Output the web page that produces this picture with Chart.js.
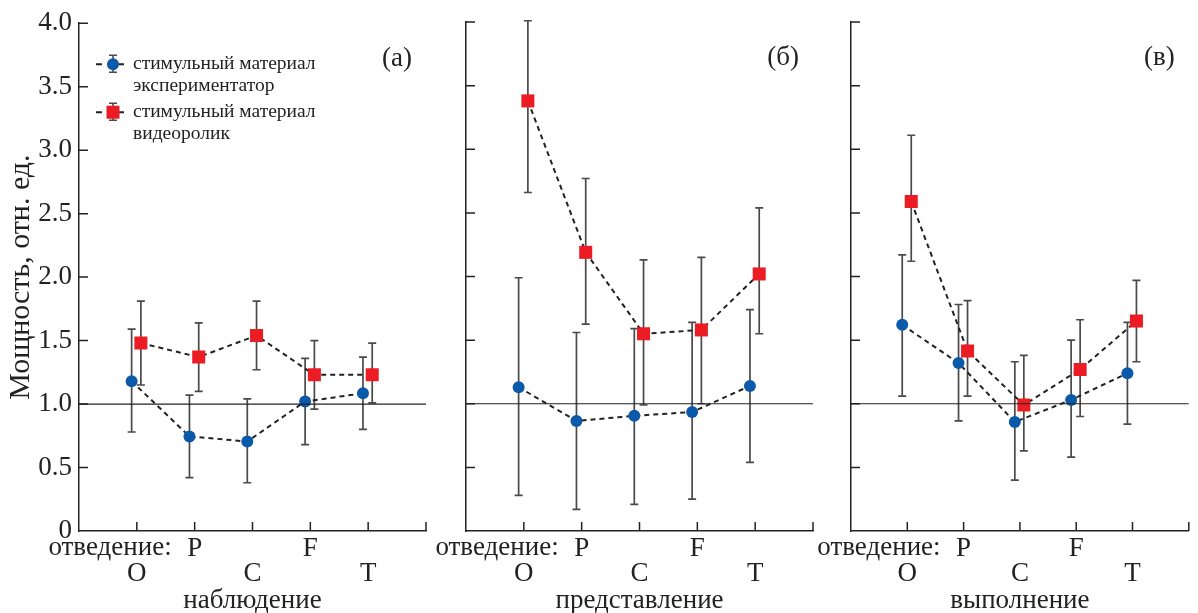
<!DOCTYPE html>
<html>
<head>
<meta charset="utf-8">
<script src="https://cdn.jsdelivr.net/npm/chart.js@4.4.1/dist/chart.umd.min.js"></script>
<style>
  html, body { margin: 0; padding: 0; background: #fff; }
  #wrap { position: relative; width: 1198px; height: 613px; overflow: hidden; }
  #wrap canvas { position: absolute; top: 0; }
</style>
</head>
<body>
<div id="wrap">
  <canvas id="c0" width="440" height="613" style="left:0px"></canvas>
  <canvas id="c1" width="430" height="613" style="left:400px"></canvas>
  <canvas id="c2" width="408" height="613" style="left:790px"></canvas>
</div>
<script>
const leads = ["O", "P", "C", "F", "T"];
const conditions = ["наблюдение", "представление", "выполнение"];
const panelLabels = ["(а)", "(б)", "(в)"];
const seriesNames = [
  ["стимульный материал", "экспериментатор"],
  ["стимульный материал", "видеоролик"]
];
const baseline = 1.0;

// наблюдение
const expObs = [1.18, 0.745, 0.705, 1.02, 1.085];
const expObsLo = [0.78, 0.42, 0.38, 0.68, 0.80];
const expObsHi = [1.59, 1.07, 1.04, 1.36, 1.37];
const vidObs = [1.48, 1.37, 1.54, 1.23, 1.23];
const vidObsLo = [1.15, 1.10, 1.27, 0.96, 1.01];
const vidObsHi = [1.81, 1.64, 1.81, 1.50, 1.48];

// представление
const expImg = [1.13, 0.865, 0.905, 0.935, 1.14];
const expImgLo = [0.28, 0.17, 0.21, 0.25, 0.54];
const expImgHi = [1.99, 1.56, 1.59, 1.64, 1.74];
const vidImg = [3.38, 2.19, 1.55, 1.58, 2.02];
const vidImgLo = [2.66, 1.625, 0.99, 1.0, 1.55];
const vidImgHi = [4.01, 2.77, 2.13, 2.15, 2.54];

// выполнение
const expExe = [1.62, 1.32, 0.857, 1.03, 1.24];
const expExeLo = [1.06, 0.865, 0.40, 0.58, 0.84];
const expExeHi = [2.17, 1.78, 1.33, 1.50, 1.64];
const vidExe = [2.59, 1.415, 0.99, 1.27, 1.65];
const vidExeLo = [2.12, 1.06, 0.63, 0.90, 1.33];
const vidExeHi = [3.11, 1.81, 1.38, 1.66, 1.97];

const BLUE = "#0b5aa9";
const RED = "#ec1c24";
const INK = "#222";
const BAR = "#4a4a4a";
const FONT = "'Liberation Serif', 'Times New Roman', serif";

const panels = [
  { exp: [expObs, expObsLo, expObsHi], vid: [vidObs, vidObsLo, vidObsHi], yAxisW: 79, padRight: 14, legend: true },
  { exp: [expImg, expImgLo, expImgHi], vid: [vidImg, vidImgLo, vidImgHi], yAxisW: 66, padRight: 17, legend: false },
  { exp: [expExe, expExeLo, expExeHi], vid: [vidExe, vidExeLo, vidExeHi], yAxisW: 61, padRight: 1, legend: false }
];

const toPts = (vals, shift) => vals.map((v, i) => ({ x: i + 1 + shift, y: v }));

// error bars, inward ticks and the texts on the plot
const decoPlugin = {
  id: "deco",
  beforeDatasetsDraw(chart) {
    const { ctx, scales: { x, y } } = chart;
    ctx.save();
    ctx.strokeStyle = BAR;
    ctx.lineWidth = 1.7;
    chart.data.datasets.forEach((ds) => {
      if (!ds.errLo) return;
      ds.data.forEach((p, i) => {
        const px = x.getPixelForValue(p.x);
        const lo = y.getPixelForValue(ds.errLo[i]);
        const hi = y.getPixelForValue(ds.errHi[i]);
        ctx.beginPath();
        ctx.moveTo(px, lo); ctx.lineTo(px, hi);
        ctx.moveTo(px - 4, lo); ctx.lineTo(px + 4, lo);
        ctx.moveTo(px - 4, hi); ctx.lineTo(px + 4, hi);
        ctx.stroke();
      });
    });
    ctx.restore();
  },
  afterDraw(chart) {
    const { ctx, chartArea, scales: { x, y } } = chart;
    const opts = chart.options.plugins.deco;
    ctx.save();
    ctx.strokeStyle = INK;
    ctx.lineWidth = 1.5;
    ctx.beginPath();
    for (let v = 0.5; v <= 4.0001; v += 0.5) {
      const py = y.getPixelForValue(v);
      ctx.moveTo(chartArea.left, py); ctx.lineTo(chartArea.left + 9, py);
    }
    for (let v = 1; v <= 6; v++) {
      const px = x.getPixelForValue(v);
      ctx.moveTo(px, chartArea.bottom); ctx.lineTo(px, chartArea.bottom - 9);
    }
    ctx.stroke();

    ctx.fillStyle = INK;
    ctx.textBaseline = "middle";
    ctx.font = "27px " + FONT;
    ctx.textAlign = "right";
    ctx.fillText(opts.label, chartArea.right - 14, chartArea.top + 36);
    ctx.fillText("отведение:", x.getPixelForValue(2) - 23, chartArea.bottom + 17);

    if (opts.legend) {
      const items = [
        { color: BLUE, style: "circle", y: chartArea.top + 41, lines: seriesNames[0] },
        { color: RED, style: "rect", y: chartArea.top + 89, lines: seriesNames[1] }
      ];
      items.forEach((it) => {
        const mx = chartArea.left + 34;
        ctx.strokeStyle = INK;
        ctx.lineWidth = 2;
        ctx.setLineDash([6, 5]);
        ctx.beginPath();
        ctx.moveTo(mx - 17, it.y); ctx.lineTo(mx + 16, it.y);
        ctx.stroke();
        ctx.setLineDash([]);
        ctx.strokeStyle = BAR;
        ctx.lineWidth = 1.6;
        ctx.beginPath();
        ctx.moveTo(mx, it.y - 9); ctx.lineTo(mx, it.y + 8);
        ctx.moveTo(mx - 4, it.y - 9); ctx.lineTo(mx + 4, it.y - 9);
        ctx.moveTo(mx - 4, it.y + 8); ctx.lineTo(mx + 4, it.y + 8);
        ctx.stroke();
        ctx.fillStyle = it.color;
        ctx.beginPath();
        if (it.style === "circle") ctx.arc(mx, it.y, 6, 0, Math.PI * 2);
        else ctx.rect(mx - 6.5, it.y - 6.5, 13, 13);
        ctx.fill();
        ctx.fillStyle = INK;
        ctx.font = "19.5px " + FONT;
        ctx.textAlign = "left";
        ctx.fillText(it.lines[0], chartArea.left + 54, it.y);
        ctx.fillText(it.lines[1], chartArea.left + 54, it.y + 22);
      });
    }
    ctx.restore();
  }
};

panels.forEach((p, k) => {
  const datasets = [
    {
      data: [{ x: 0, y: baseline }, { x: 6, y: baseline }],
      borderColor: INK, borderWidth: 1.2, pointRadius: 0
    },
    {
      data: toPts(p.exp[0], -0.09), errLo: p.exp[1], errHi: p.exp[2],
      borderColor: INK, borderWidth: 2, borderDash: [5, 4],
      pointStyle: "circle", pointRadius: 6, pointBorderWidth: 0,
      pointBackgroundColor: BLUE
    },
    {
      data: toPts(p.vid[0], 0.07), errLo: p.vid[1], errHi: p.vid[2],
      borderColor: INK, borderWidth: 2, borderDash: [5, 4],
      pointStyle: "rect", pointRadius: 9.2, pointBorderWidth: 0,
      pointBackgroundColor: RED
    }
  ];

  new Chart(document.getElementById("c" + k), {
    type: "line",
    data: { datasets },
    plugins: [decoPlugin],
    options: {
      responsive: false,
      animation: false,
      events: [],
      layout: { padding: { top: 22, right: p.padRight, left: 0, bottom: 0 } },
      plugins: {
        legend: { display: false },
        tooltip: { enabled: false },
        deco: { label: panelLabels[k], legend: p.legend }
      },
      scales: {
        x: {
          type: "linear", min: 0, max: 6,
          grid: { display: false, drawTicks: false },
          border: { display: true, color: INK, width: 1.5 },
          ticks: {
            stepSize: 1, autoSkip: false, maxRotation: 0, padding: 5,
            color: INK, font: { family: FONT, size: 27, lineHeight: "25px" },
            callback: (v) => {
              const i = v - 1;
              if (i < 0 || i >= leads.length) return "";
              return i % 2 === 0 ? ["", leads[i]] : [leads[i], ""];
            }
          },
          title: {
            display: true, text: conditions[k], color: INK,
            font: { family: FONT, size: 27, lineHeight: "24px" }, padding: 0
          },
          afterFit: (s) => { s.height = 82; }
        },
        y: {
          min: 0, max: 4,
          grid: { display: false, drawTicks: false },
          border: { display: true, color: INK, width: 1.5 },
          ticks: {
            stepSize: 0.5, padding: 7, display: k === 0,
            color: INK, font: { family: FONT, size: 27 },
            callback: (v) => (v === 0 ? "0" : v.toFixed(1))
          },
          title: {
            display: k === 0, text: "Мощность, отн. ед.", color: INK,
            font: { family: FONT, size: 30, lineHeight: 1 }, padding: { top: 6, bottom: 0 }
          },
          afterFit: (s) => { s.width = p.yAxisW; }
        }
      }
    }
  });
});
</script>
</body>
</html>
